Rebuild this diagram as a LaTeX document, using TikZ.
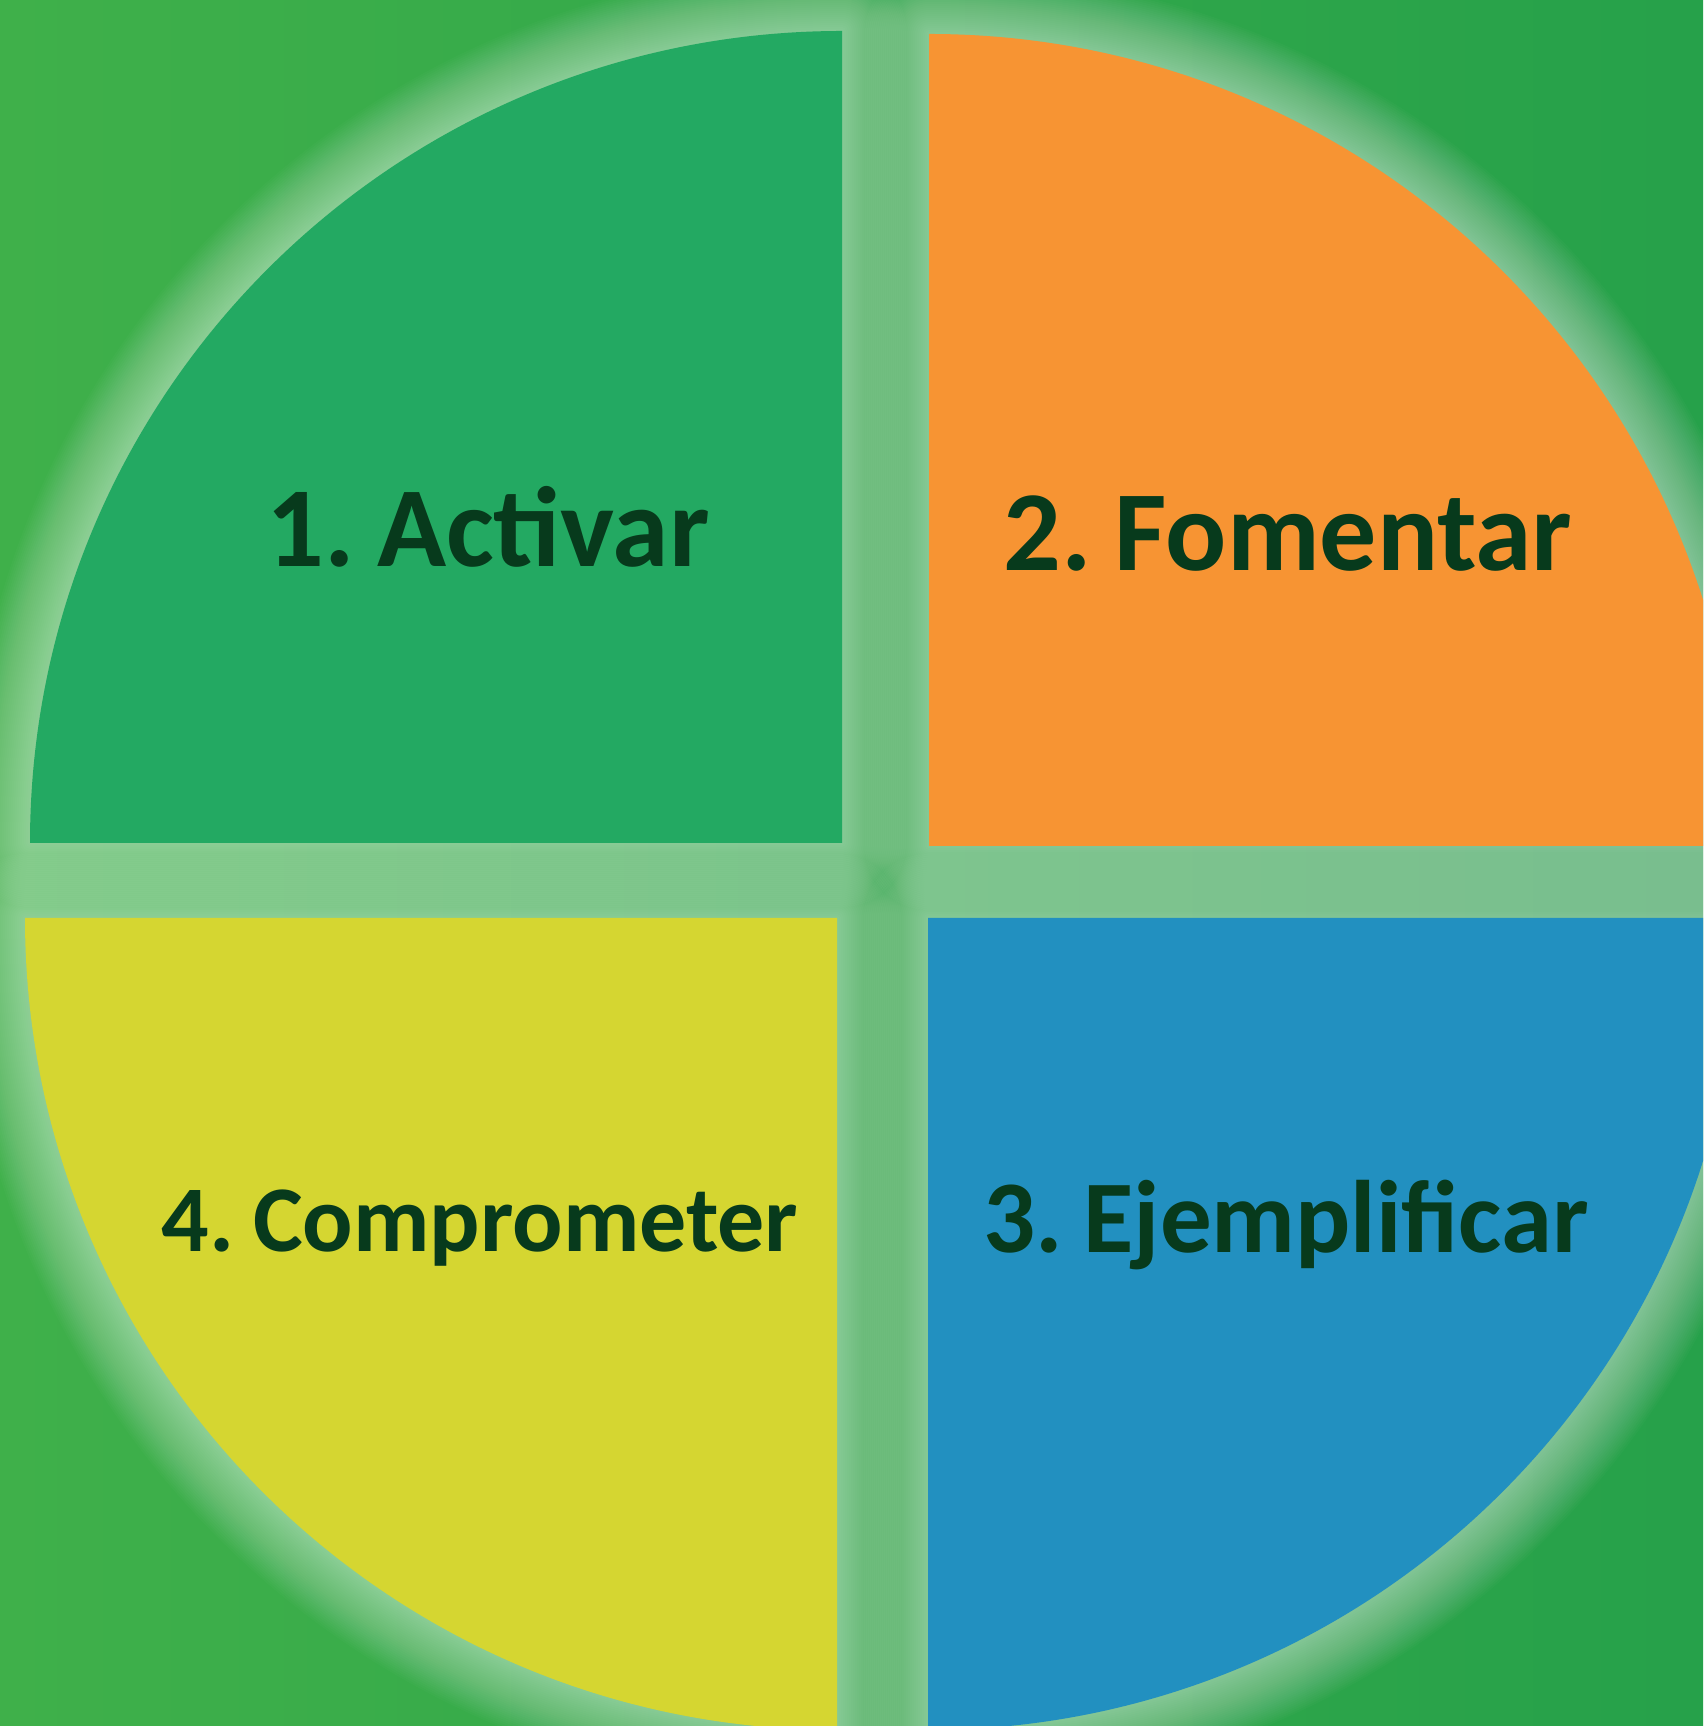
\documentclass[tikz,border=0pt]{standalone}
\usepackage{fontspec}
\setmainfont{Carlito}[WordSpace=0.55]
\definecolor{bgleft}{HTML}{3FB04A}
\definecolor{bgright}{HTML}{26A14A}
\definecolor{qgreen}{HTML}{23A962}
\definecolor{qorange}{HTML}{F79433}
\definecolor{qyellow}{HTML}{D5D631}
\definecolor{qblue}{HTML}{2290C0}
\definecolor{txt}{HTML}{073A1C}
\tikzset{
  label/.style={anchor=base, text=txt, font=\bfseries, inner sep=0pt},
  glow/.style={draw=white, line join=round, opacity=0.018},
}
\begin{document}
\begin{tikzpicture}[x=1pt,y=1pt]
\useasboundingbox (0,0) rectangle (1703,1726);
\clip (0,0) rectangle (1703,1726);
\shade[left color=bgleft, right color=bgright] (0,0) rectangle (1703,1726);
% quadrant shapes
\def\qTL{(842,883) -- (30,883) arc[start angle=180,end angle=90,radius=812] -- cycle}
\def\qTR{(929,880) -- (929,1692) arc[start angle=90,end angle=0,radius=812] -- cycle}
\def\qBL{(837,808) -- (25,808) arc[start angle=180,end angle=270,radius=812] -- cycle}
\def\qBR{(928,808) -- (1740,808) arc[start angle=0,end angle=-90,radius=812] -- cycle}
% glow
\foreach \w in {4,8,...,128}{
  \draw[glow, line width=\w pt] \qTL;
  \draw[glow, line width=\w pt] \qTR;
  \draw[glow, line width=\w pt] \qBL;
  \draw[glow, line width=\w pt] \qBR;
}
\fill[qgreen] \qTL;
\fill[qorange] \qTR;
\fill[qyellow] \qBL;
\fill[qblue] \qBR;
\node[label, font=\fontsize{114}{130}\selectfont\bfseries] (a) at (488,1159) {1. Activar};
\node[label, font=\fontsize{114}{130}\selectfont\bfseries] (f) at (1288,1155) {2. Fomentar};
\node[label, font=\fontsize{103}{120}\selectfont\bfseries] (e) at (1286,473) {3. Ejemplificar};
\node[label, font=\fontsize{94}{110}\selectfont\bfseries] (c) at (480,474) {4. Comprometer};
\end{tikzpicture}
\end{document}
